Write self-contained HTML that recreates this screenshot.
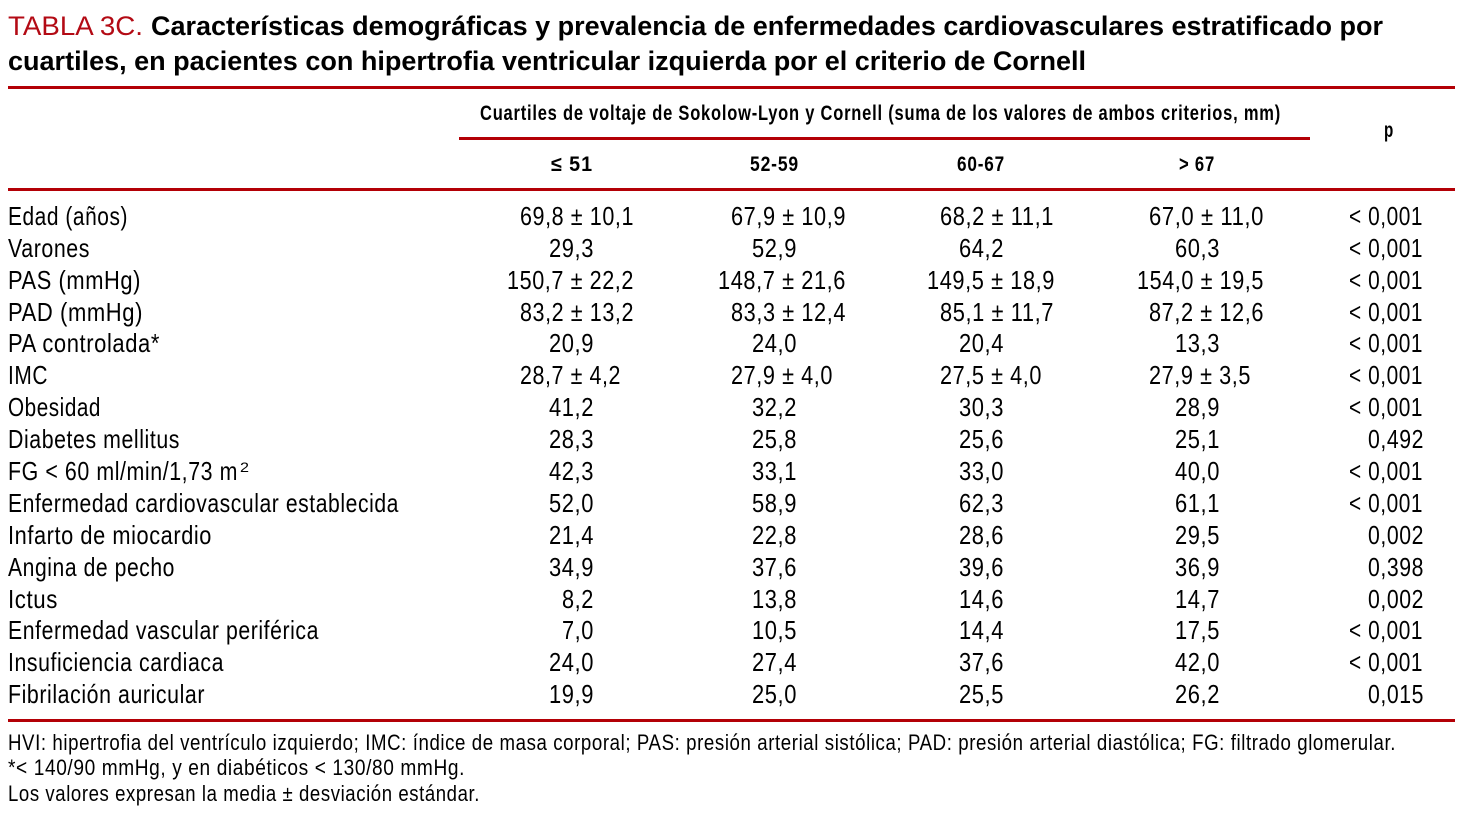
<!DOCTYPE html>
<html lang="es">
<head>
<meta charset="utf-8">
<title>Tabla 3C</title>
<style>
html,body{margin:0;padding:0;background:#fff;width:1472px;height:814px;overflow:hidden}
svg{display:block}
text{font-family:"Liberation Sans",Arial,sans-serif;fill:#000}
.c{font-size:26px;letter-spacing:.7px;transform:translateY(-1px)}
.t{font-size:27px;font-weight:bold}
.h{font-size:21px;font-weight:bold;letter-spacing:1px;transform:translateY(-1px)}
.f{font-size:22px;letter-spacing:.7px}
</style>
</head>
<body>
<svg xmlns="http://www.w3.org/2000/svg" width="1472" height="814" viewBox="0 0 1472 814">
<rect x="0" y="0" width="1472" height="814" fill="#fff"/>
<g>
<text class="t" style="font-weight:normal;fill:#b30a14" x="8" y="35" textLength="135" lengthAdjust="spacingAndGlyphs">TABLA 3C.</text>
<text class="t" x="151" y="35" textLength="1232" lengthAdjust="spacingAndGlyphs">Características demográficas y prevalencia de enfermedades cardiovasculares estratificado por</text>
<text class="t" x="8" y="70" textLength="1078" lengthAdjust="spacingAndGlyphs">cuartiles, en pacientes con hipertrofia ventricular izquierda por el criterio de Cornell</text>
</g>
<rect x="8" y="86" width="1447" height="3" fill="#b30006"/>
<rect x="459" y="137" width="851" height="3" fill="#b30006"/>
<rect x="8" y="188" width="1447" height="3" fill="#b30006"/>
<rect x="8" y="719" width="1447" height="3" fill="#b30006"/>
<g>
<text class="h" x="480" y="121" textLength="801" lengthAdjust="spacingAndGlyphs">Cuartiles de voltaje de Sokolow-Lyon y Cornell (suma de los valores de ambos criterios, mm)</text>
<text class="h" x="1384" y="138" textLength="10" lengthAdjust="spacingAndGlyphs">p</text>
<text class="h" x="551" y="172" textLength="42" lengthAdjust="spacingAndGlyphs">≤ 51</text>
<text class="h" x="750" y="172" textLength="49" lengthAdjust="spacingAndGlyphs">52-59</text>
<text class="h" x="957" y="172" textLength="48" lengthAdjust="spacingAndGlyphs">60-67</text>
<text class="h" x="1179" y="172" textLength="36" lengthAdjust="spacingAndGlyphs">&gt; 67</text>
</g>
<g>
<text class="c" x="8" y="226" textLength="120" lengthAdjust="spacingAndGlyphs">Edad (años)</text>
<text class="c" x="520" y="226" textLength="114" lengthAdjust="spacingAndGlyphs">69,8 ± 10,1</text>
<text class="c" x="731" y="226" textLength="115" lengthAdjust="spacingAndGlyphs">67,9 ± 10,9</text>
<text class="c" x="940" y="226" textLength="114" lengthAdjust="spacingAndGlyphs">68,2 ± 11,1</text>
<text class="c" x="1149" y="226" textLength="115" lengthAdjust="spacingAndGlyphs">67,0 ± 11,0</text>
<text class="c" x="1349" y="226" textLength="74" lengthAdjust="spacingAndGlyphs">&lt; 0,001</text>
</g>
<g>
<text class="c" x="8" y="258" textLength="82" lengthAdjust="spacingAndGlyphs">Varones</text>
<text class="c" x="549" y="258" textLength="45" lengthAdjust="spacingAndGlyphs">29,3</text>
<text class="c" x="752" y="258" textLength="45" lengthAdjust="spacingAndGlyphs">52,9</text>
<text class="c" x="959" y="258" textLength="45" lengthAdjust="spacingAndGlyphs">64,2</text>
<text class="c" x="1175" y="258" textLength="45" lengthAdjust="spacingAndGlyphs">60,3</text>
<text class="c" x="1349" y="258" textLength="74" lengthAdjust="spacingAndGlyphs">&lt; 0,001</text>
</g>
<g>
<text class="c" x="8" y="290" textLength="133" lengthAdjust="spacingAndGlyphs">PAS (mmHg)</text>
<text class="c" x="507" y="290" textLength="127" lengthAdjust="spacingAndGlyphs">150,7 ± 22,2</text>
<text class="c" x="718" y="290" textLength="128" lengthAdjust="spacingAndGlyphs">148,7 ± 21,6</text>
<text class="c" x="927" y="290" textLength="128" lengthAdjust="spacingAndGlyphs">149,5 ± 18,9</text>
<text class="c" x="1137" y="290" textLength="127" lengthAdjust="spacingAndGlyphs">154,0 ± 19,5</text>
<text class="c" x="1349" y="290" textLength="74" lengthAdjust="spacingAndGlyphs">&lt; 0,001</text>
</g>
<g>
<text class="c" x="8" y="322" textLength="135" lengthAdjust="spacingAndGlyphs">PAD (mmHg)</text>
<text class="c" x="520" y="322" textLength="114" lengthAdjust="spacingAndGlyphs">83,2 ± 13,2</text>
<text class="c" x="731" y="322" textLength="115" lengthAdjust="spacingAndGlyphs">83,3 ± 12,4</text>
<text class="c" x="940" y="322" textLength="114" lengthAdjust="spacingAndGlyphs">85,1 ± 11,7</text>
<text class="c" x="1149" y="322" textLength="115" lengthAdjust="spacingAndGlyphs">87,2 ± 12,6</text>
<text class="c" x="1349" y="322" textLength="74" lengthAdjust="spacingAndGlyphs">&lt; 0,001</text>
</g>
<g>
<text class="c" x="8" y="353" textLength="152" lengthAdjust="spacingAndGlyphs">PA controlada*</text>
<text class="c" x="549" y="353" textLength="45" lengthAdjust="spacingAndGlyphs">20,9</text>
<text class="c" x="752" y="353" textLength="45" lengthAdjust="spacingAndGlyphs">24,0</text>
<text class="c" x="959" y="353" textLength="45" lengthAdjust="spacingAndGlyphs">20,4</text>
<text class="c" x="1175" y="353" textLength="45" lengthAdjust="spacingAndGlyphs">13,3</text>
<text class="c" x="1349" y="353" textLength="74" lengthAdjust="spacingAndGlyphs">&lt; 0,001</text>
</g>
<g>
<text class="c" x="8" y="385" textLength="40" lengthAdjust="spacingAndGlyphs">IMC</text>
<text class="c" x="520" y="385" textLength="101" lengthAdjust="spacingAndGlyphs">28,7 ± 4,2</text>
<text class="c" x="731" y="385" textLength="102" lengthAdjust="spacingAndGlyphs">27,9 ± 4,0</text>
<text class="c" x="940" y="385" textLength="102" lengthAdjust="spacingAndGlyphs">27,5 ± 4,0</text>
<text class="c" x="1149" y="385" textLength="102" lengthAdjust="spacingAndGlyphs">27,9 ± 3,5</text>
<text class="c" x="1349" y="385" textLength="74" lengthAdjust="spacingAndGlyphs">&lt; 0,001</text>
</g>
<g>
<text class="c" x="8" y="417" textLength="93" lengthAdjust="spacingAndGlyphs">Obesidad</text>
<text class="c" x="549" y="417" textLength="45" lengthAdjust="spacingAndGlyphs">41,2</text>
<text class="c" x="752" y="417" textLength="45" lengthAdjust="spacingAndGlyphs">32,2</text>
<text class="c" x="959" y="417" textLength="45" lengthAdjust="spacingAndGlyphs">30,3</text>
<text class="c" x="1175" y="417" textLength="45" lengthAdjust="spacingAndGlyphs">28,9</text>
<text class="c" x="1349" y="417" textLength="74" lengthAdjust="spacingAndGlyphs">&lt; 0,001</text>
</g>
<g>
<text class="c" x="8" y="449" textLength="172" lengthAdjust="spacingAndGlyphs">Diabetes mellitus</text>
<text class="c" x="549" y="449" textLength="45" lengthAdjust="spacingAndGlyphs">28,3</text>
<text class="c" x="752" y="449" textLength="45" lengthAdjust="spacingAndGlyphs">25,8</text>
<text class="c" x="959" y="449" textLength="45" lengthAdjust="spacingAndGlyphs">25,6</text>
<text class="c" x="1175" y="449" textLength="45" lengthAdjust="spacingAndGlyphs">25,1</text>
<text class="c" x="1368" y="449" textLength="56" lengthAdjust="spacingAndGlyphs">0,492</text>
</g>
<g>
<text class="c" x="8" y="481" textLength="230" lengthAdjust="spacingAndGlyphs">FG &lt; 60 ml/min/1,73 m</text>
<text x="240" y="472" font-size="14" textLength="9" lengthAdjust="spacingAndGlyphs">2</text>
<text class="c" x="549" y="481" textLength="45" lengthAdjust="spacingAndGlyphs">42,3</text>
<text class="c" x="752" y="481" textLength="45" lengthAdjust="spacingAndGlyphs">33,1</text>
<text class="c" x="959" y="481" textLength="45" lengthAdjust="spacingAndGlyphs">33,0</text>
<text class="c" x="1175" y="481" textLength="45" lengthAdjust="spacingAndGlyphs">40,0</text>
<text class="c" x="1349" y="481" textLength="74" lengthAdjust="spacingAndGlyphs">&lt; 0,001</text>
</g>
<g>
<text class="c" x="8" y="513" textLength="391" lengthAdjust="spacingAndGlyphs">Enfermedad cardiovascular establecida</text>
<text class="c" x="549" y="513" textLength="45" lengthAdjust="spacingAndGlyphs">52,0</text>
<text class="c" x="752" y="513" textLength="45" lengthAdjust="spacingAndGlyphs">58,9</text>
<text class="c" x="959" y="513" textLength="45" lengthAdjust="spacingAndGlyphs">62,3</text>
<text class="c" x="1175" y="513" textLength="45" lengthAdjust="spacingAndGlyphs">61,1</text>
<text class="c" x="1349" y="513" textLength="74" lengthAdjust="spacingAndGlyphs">&lt; 0,001</text>
</g>
<g>
<text class="c" x="8" y="545" textLength="204" lengthAdjust="spacingAndGlyphs">Infarto de miocardio</text>
<text class="c" x="549" y="545" textLength="45" lengthAdjust="spacingAndGlyphs">21,4</text>
<text class="c" x="752" y="545" textLength="45" lengthAdjust="spacingAndGlyphs">22,8</text>
<text class="c" x="959" y="545" textLength="45" lengthAdjust="spacingAndGlyphs">28,6</text>
<text class="c" x="1175" y="545" textLength="45" lengthAdjust="spacingAndGlyphs">29,5</text>
<text class="c" x="1368" y="545" textLength="56" lengthAdjust="spacingAndGlyphs">0,002</text>
</g>
<g>
<text class="c" x="8" y="577" textLength="167" lengthAdjust="spacingAndGlyphs">Angina de pecho</text>
<text class="c" x="549" y="577" textLength="45" lengthAdjust="spacingAndGlyphs">34,9</text>
<text class="c" x="752" y="577" textLength="45" lengthAdjust="spacingAndGlyphs">37,6</text>
<text class="c" x="959" y="577" textLength="45" lengthAdjust="spacingAndGlyphs">39,6</text>
<text class="c" x="1175" y="577" textLength="45" lengthAdjust="spacingAndGlyphs">36,9</text>
<text class="c" x="1368" y="577" textLength="56" lengthAdjust="spacingAndGlyphs">0,398</text>
</g>
<g>
<text class="c" x="8" y="609" textLength="50" lengthAdjust="spacingAndGlyphs">Ictus</text>
<text class="c" x="562" y="609" textLength="32" lengthAdjust="spacingAndGlyphs">8,2</text>
<text class="c" x="752" y="609" textLength="45" lengthAdjust="spacingAndGlyphs">13,8</text>
<text class="c" x="959" y="609" textLength="45" lengthAdjust="spacingAndGlyphs">14,6</text>
<text class="c" x="1175" y="609" textLength="45" lengthAdjust="spacingAndGlyphs">14,7</text>
<text class="c" x="1368" y="609" textLength="56" lengthAdjust="spacingAndGlyphs">0,002</text>
</g>
<g>
<text class="c" x="8" y="640" textLength="311" lengthAdjust="spacingAndGlyphs">Enfermedad vascular periférica</text>
<text class="c" x="562" y="640" textLength="32" lengthAdjust="spacingAndGlyphs">7,0</text>
<text class="c" x="752" y="640" textLength="45" lengthAdjust="spacingAndGlyphs">10,5</text>
<text class="c" x="959" y="640" textLength="45" lengthAdjust="spacingAndGlyphs">14,4</text>
<text class="c" x="1175" y="640" textLength="45" lengthAdjust="spacingAndGlyphs">17,5</text>
<text class="c" x="1349" y="640" textLength="74" lengthAdjust="spacingAndGlyphs">&lt; 0,001</text>
</g>
<g>
<text class="c" x="8" y="672" textLength="216" lengthAdjust="spacingAndGlyphs">Insuficiencia cardiaca</text>
<text class="c" x="549" y="672" textLength="45" lengthAdjust="spacingAndGlyphs">24,0</text>
<text class="c" x="752" y="672" textLength="45" lengthAdjust="spacingAndGlyphs">27,4</text>
<text class="c" x="959" y="672" textLength="45" lengthAdjust="spacingAndGlyphs">37,6</text>
<text class="c" x="1175" y="672" textLength="45" lengthAdjust="spacingAndGlyphs">42,0</text>
<text class="c" x="1349" y="672" textLength="74" lengthAdjust="spacingAndGlyphs">&lt; 0,001</text>
</g>
<g>
<text class="c" x="8" y="704" textLength="197" lengthAdjust="spacingAndGlyphs">Fibrilación auricular</text>
<text class="c" x="549" y="704" textLength="45" lengthAdjust="spacingAndGlyphs">19,9</text>
<text class="c" x="752" y="704" textLength="45" lengthAdjust="spacingAndGlyphs">25,0</text>
<text class="c" x="959" y="704" textLength="45" lengthAdjust="spacingAndGlyphs">25,5</text>
<text class="c" x="1175" y="704" textLength="45" lengthAdjust="spacingAndGlyphs">26,2</text>
<text class="c" x="1368" y="704" textLength="56" lengthAdjust="spacingAndGlyphs">0,015</text>
</g>
<g>
<text class="f" x="8" y="750" textLength="1388" lengthAdjust="spacingAndGlyphs">HVI: hipertrofia del ventrículo izquierdo; IMC: índice de masa corporal; PAS: presión arterial sistólica; PAD: presión arterial diastólica; FG: filtrado glomerular.</text>
<text class="f" x="8" y="775" textLength="457" lengthAdjust="spacingAndGlyphs">*&lt; 140/90 mmHg, y en diabéticos &lt; 130/80 mmHg.</text>
<text class="f" x="8" y="801" textLength="472" lengthAdjust="spacingAndGlyphs">Los valores expresan la media ± desviación estándar.</text>
</g>
</svg>
</body>
</html>
